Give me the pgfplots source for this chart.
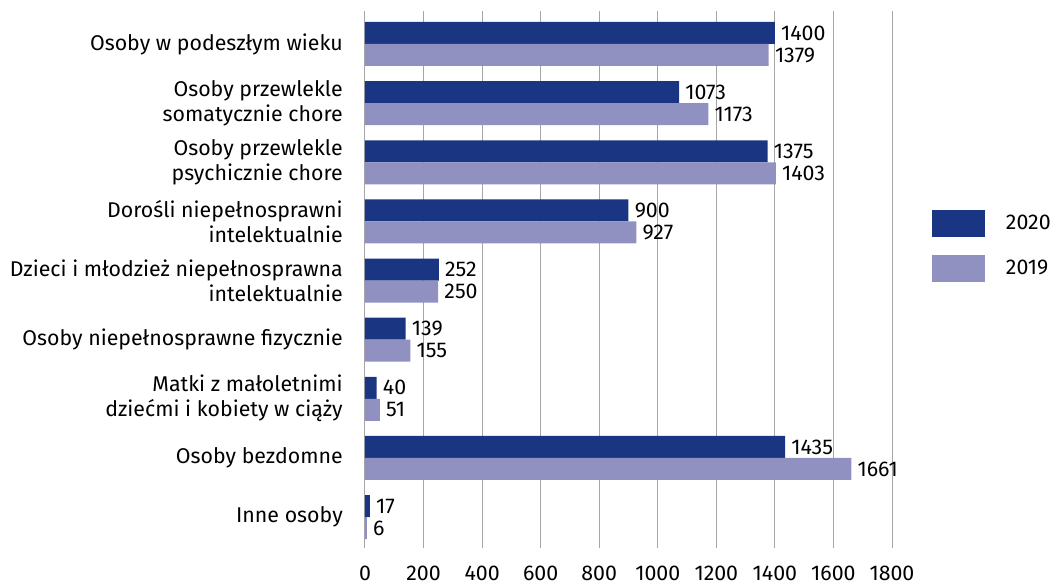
\documentclass[border=0pt]{standalone}
\usepackage{pgfplots}
\pgfplotsset{compat=1.18}
\usepackage{fontspec}
\setmainfont{Fira Sans}
\definecolor{dark}{HTML}{1A3682}
\definecolor{light}{HTML}{9191C1}
\definecolor{gridc}{HTML}{A6A6A6}
\pgfplotsset{mylegend/.style={legend image code/.code={\fill[##1] (0pt,-10.125pt) rectangle (39.75pt,10.125pt);}}}
\begin{document}
\begin{tikzpicture}
\begin{axis}[
  at={(0,0)}, anchor=south west,
  scale only axis, width=395.25pt, height=402.75pt,
  xbar, bar width=16.5pt,
  xmin=0, xmax=1800, xtick={0,200,...,1800},
  ymin=-0.558, ymax=8.524, y dir=reverse,
  ytick={0,...,8},
  yticklabels={Osoby w podeszłym wieku, {Osoby przewlekle\\somatycznie chore}, {Osoby przewlekle\\psychicznie chore}, {Dorośli niepełnosprawni\\intelektualnie}, {Dzieci i młodzież niepełnosprawna\\intelektualnie}, Osoby niepełnosprawne fizycznie, {Matki z małoletnimi\\dziećmi i kobiety w ciąży}, Osoby bezdomne, Inne osoby},
  yticklabel style={align=right, inner sep=0pt, xshift=-16.5pt, font=\fontsize{16}{18.75}\selectfont},
  xticklabel style={inner sep=0pt, yshift=-13pt, font=\fontsize{16}{18.75}\selectfont},
  /pgf/number format/.cd, 1000 sep={}, assume math mode=true, /pgfplots/.cd,
  axis line style={draw=none},
  major tick length=0pt,
  xmajorgrids, ymajorgrids=false,
  grid style={gridc, line width=0.75pt},
  nodes near coords,
  nodes near coords style={font=\fontsize{16}{18}\selectfont, anchor=west, inner sep=4.5pt, black},
  legend style={draw=none, fill=none, at={(1.076,0.562)}, anchor=west, inner sep=0pt, row sep=13.5pt, font=\fontsize{16}{18}\selectfont, column sep=0pt},
  legend cell align=left,
  clip=false,
]
\addplot[fill=dark, draw=none, bar shift=8.25pt, mylegend] coordinates {(1400,0) (1073,1) (1375,2) (900,3) (252,4) (139,5) (40,6) (1435,7) (17,8)};
\addlegendentry{\hspace{13.5pt}2020}
\addplot[fill=light, draw=none, bar shift=-8.25pt, mylegend] coordinates {(1379,0) (1173,1) (1403,2) (927,3) (250,4) (155,5) (51,6) (1661,7) (6,8)};
\addlegendentry{\hspace{13.5pt}2019}
\end{axis}
\pgfresetboundingbox
\useasboundingbox (-273.75pt,-29.25pt) rectangle (516pt,411pt);
\end{tikzpicture}
\end{document}
